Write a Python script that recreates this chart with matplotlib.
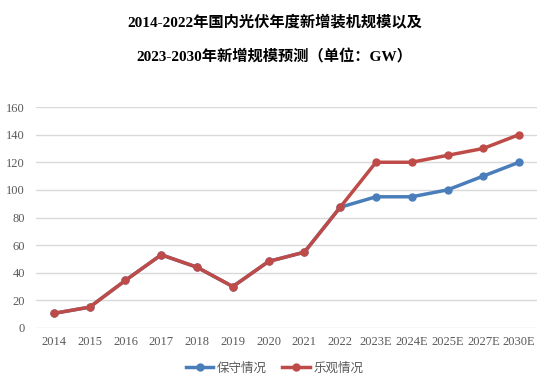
import matplotlib
matplotlib.use("Agg")
import matplotlib.pyplot as plt
import numpy as np

plt.rcParams['font.family'] = ['Liberation Serif', 'Noto Sans CJK SC', 'DejaVu Sans']

# --- data ---
years = ["2014", "2015", "2016", "2017", "2018", "2019", "2020", "2021", "2022",
         "2023E", "2024E", "2025E", "2027E", "2030E"]
conservative = [10.6, 15.1, 34.5, 53, 44, 30, 48.2, 54.9, 87.4, 95, 95, 100, 110, 120]
optimistic = [10.6, 15.1, 34.5, 53, 44, 30, 48.2, 54.9, 87.4, 120, 120, 125, 130, 140]
title_1 = "2014-2022年国内光伏年度新增装机规模以及"
title_2 = "2023-2030年新增规模预测（单位：GW）"

fig = plt.figure(figsize=(5.49, 3.83), dpi=100)
ax = fig.add_axes([36 / 549, 1 - 328 / 383, 501 / 549, 221 / 383])

x = np.arange(len(years))
ax.plot(x, conservative, color="#4A7EBB", lw=2.5, marker="o", ms=5, label="保守情况", zorder=3)
ax.plot(x, optimistic, color="#BE4B48", lw=2.5, marker="o", ms=5, label="乐观情况", zorder=4)

ax.set_xlim(-0.5, len(years) - 0.5)
ax.set_ylim(0, 160)
ax.set_yticks(range(0, 161, 20))
ax.set_xticks(x)
ax.set_xticklabels(years)
ax.grid(axis="y", color="#D9D9D9", lw=1)
ax.set_axisbelow(True)
for s in ax.spines.values():
    s.set_visible(False)
ax.tick_params(length=0, labelsize=9, colors="#595959", pad=6)
ax.tick_params(axis="y", pad=8)

fig.text(0.5, 1 - 23 / 383, title_1, ha="center", va="center", fontsize=11, fontweight="bold")
fig.text(0.5, 1 - 57 / 383, title_2, ha="center", va="center", fontsize=11, fontweight="bold")

fig.legend(loc="center", bbox_to_anchor=(0.5, 1 - 368 / 383), ncol=2, frameon=False,
           labelcolor="#595959", handlelength=2.2, handletextpad=0.3, columnspacing=1.2,
           prop={'family': ['Noto Sans CJK SC'], 'size': 9})

fig.savefig("out.png", dpi=100)
